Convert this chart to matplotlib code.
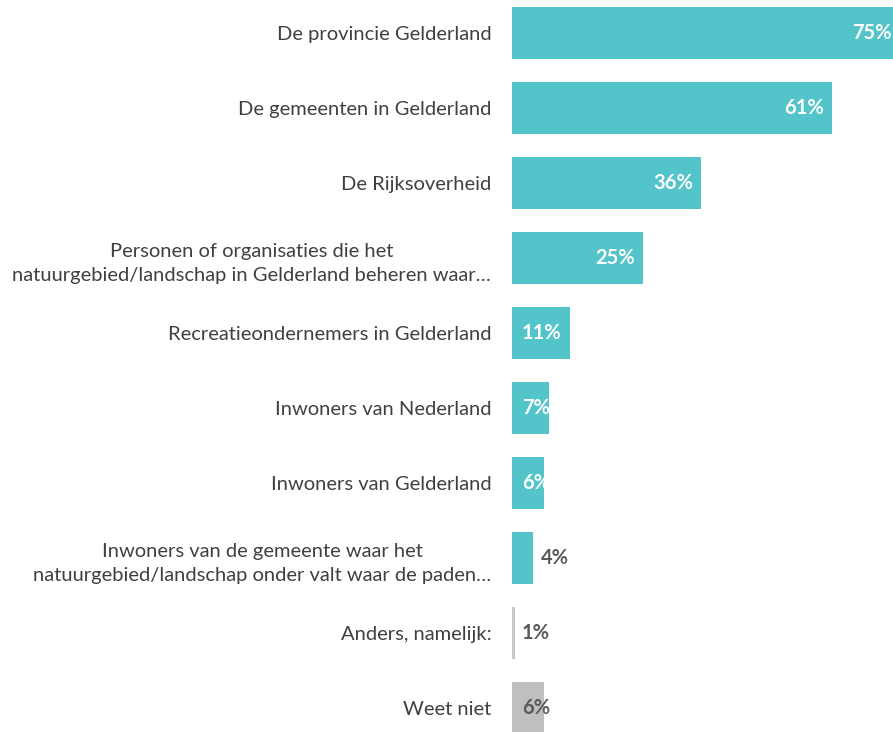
import matplotlib
matplotlib.use("Agg")
import matplotlib.pyplot as plt
from matplotlib.transforms import offset_copy

categories = [
    "De provincie Gelderland",
    "De gemeenten in Gelderland",
    "De Rijksoverheid",
    "Personen of organisaties die het\nnatuurgebied/landschap in Gelderland beheren waar…",
    "Recreatieondernemers in Gelderland",
    "Inwoners van Nederland",
    "Inwoners van Gelderland",
    "Inwoners van de gemeente waar het\nnatuurgebied/landschap onder valt waar de paden…",
    "Anders, namelijk:",
    "Weet niet",
]
values = [75, 61, 36, 25, 11, 7, 6, 4, 0.6, 6]
value_labels = ["75%", "61%", "36%", "25%", "11%", "7%", "6%", "4%", "1%", "6%"]
label_mode = ["inside", "inside", "inside", "inside", "inside", "base", "base", "outside", "base", "base"]

TEAL = "#53C4C9"
colors = [TEAL] * 8 + ["#C8C8C8", "#BFBFBF"]
label_colors = ["white"] * 7 + ["#595959", "#595959", "#595959"]

plt.rcParams["font.family"] = ["Lato", "DejaVu Sans"]

fig = plt.figure(figsize=(8.93, 7.32), dpi=100)
W, H = 893, 732
left = 512 / W
px_per = 5.25
xmax = (W - 512) / px_per
ax = fig.add_axes([left, (732 - 745.5) / H, 1 - left, 750 / H])

y = list(range(len(categories)))
ax.barh(y, values, height=0.69, color=colors)
ax.set_ylim(len(categories) - 0.5, -0.5)
ax.set_xlim(0, xmax)

FS = 14.5
ax.set_yticks(y)
ax.set_yticklabels(categories, fontsize=FS, color="#404040", multialignment="center",
                   linespacing=1.5)
ax.tick_params(axis="y", length=0, pad=15)
ax.set_xticks([])
for s in ax.spines.values():
    s.set_visible(False)

for i, (v, lab, mode, c) in enumerate(zip(values, value_labels, label_mode, label_colors)):
    if mode == "inside":
        xpos = min(v, xmax)
        off = -8 if v <= xmax else -1
        tr = offset_copy(ax.transData, fig=fig, x=off, y=0, units="dots")
        ax.text(xpos, i, lab, transform=tr, ha="right", va="center", fontsize=FS,
                fontweight="bold", color=c, clip_on=False)
    elif mode == "base":
        tr = offset_copy(ax.transData, fig=fig, x=10, y=0, units="dots")
        ax.text(0, i, lab, transform=tr, ha="left", va="center", fontsize=FS,
                fontweight="bold", color=c, clip_on=False)
    else:
        tr = offset_copy(ax.transData, fig=fig, x=8, y=0, units="dots")
        ax.text(v, i, lab, transform=tr, ha="left", va="center", fontsize=FS,
                fontweight="bold", color=c, clip_on=False)

fig.savefig("out.png", dpi=100)
